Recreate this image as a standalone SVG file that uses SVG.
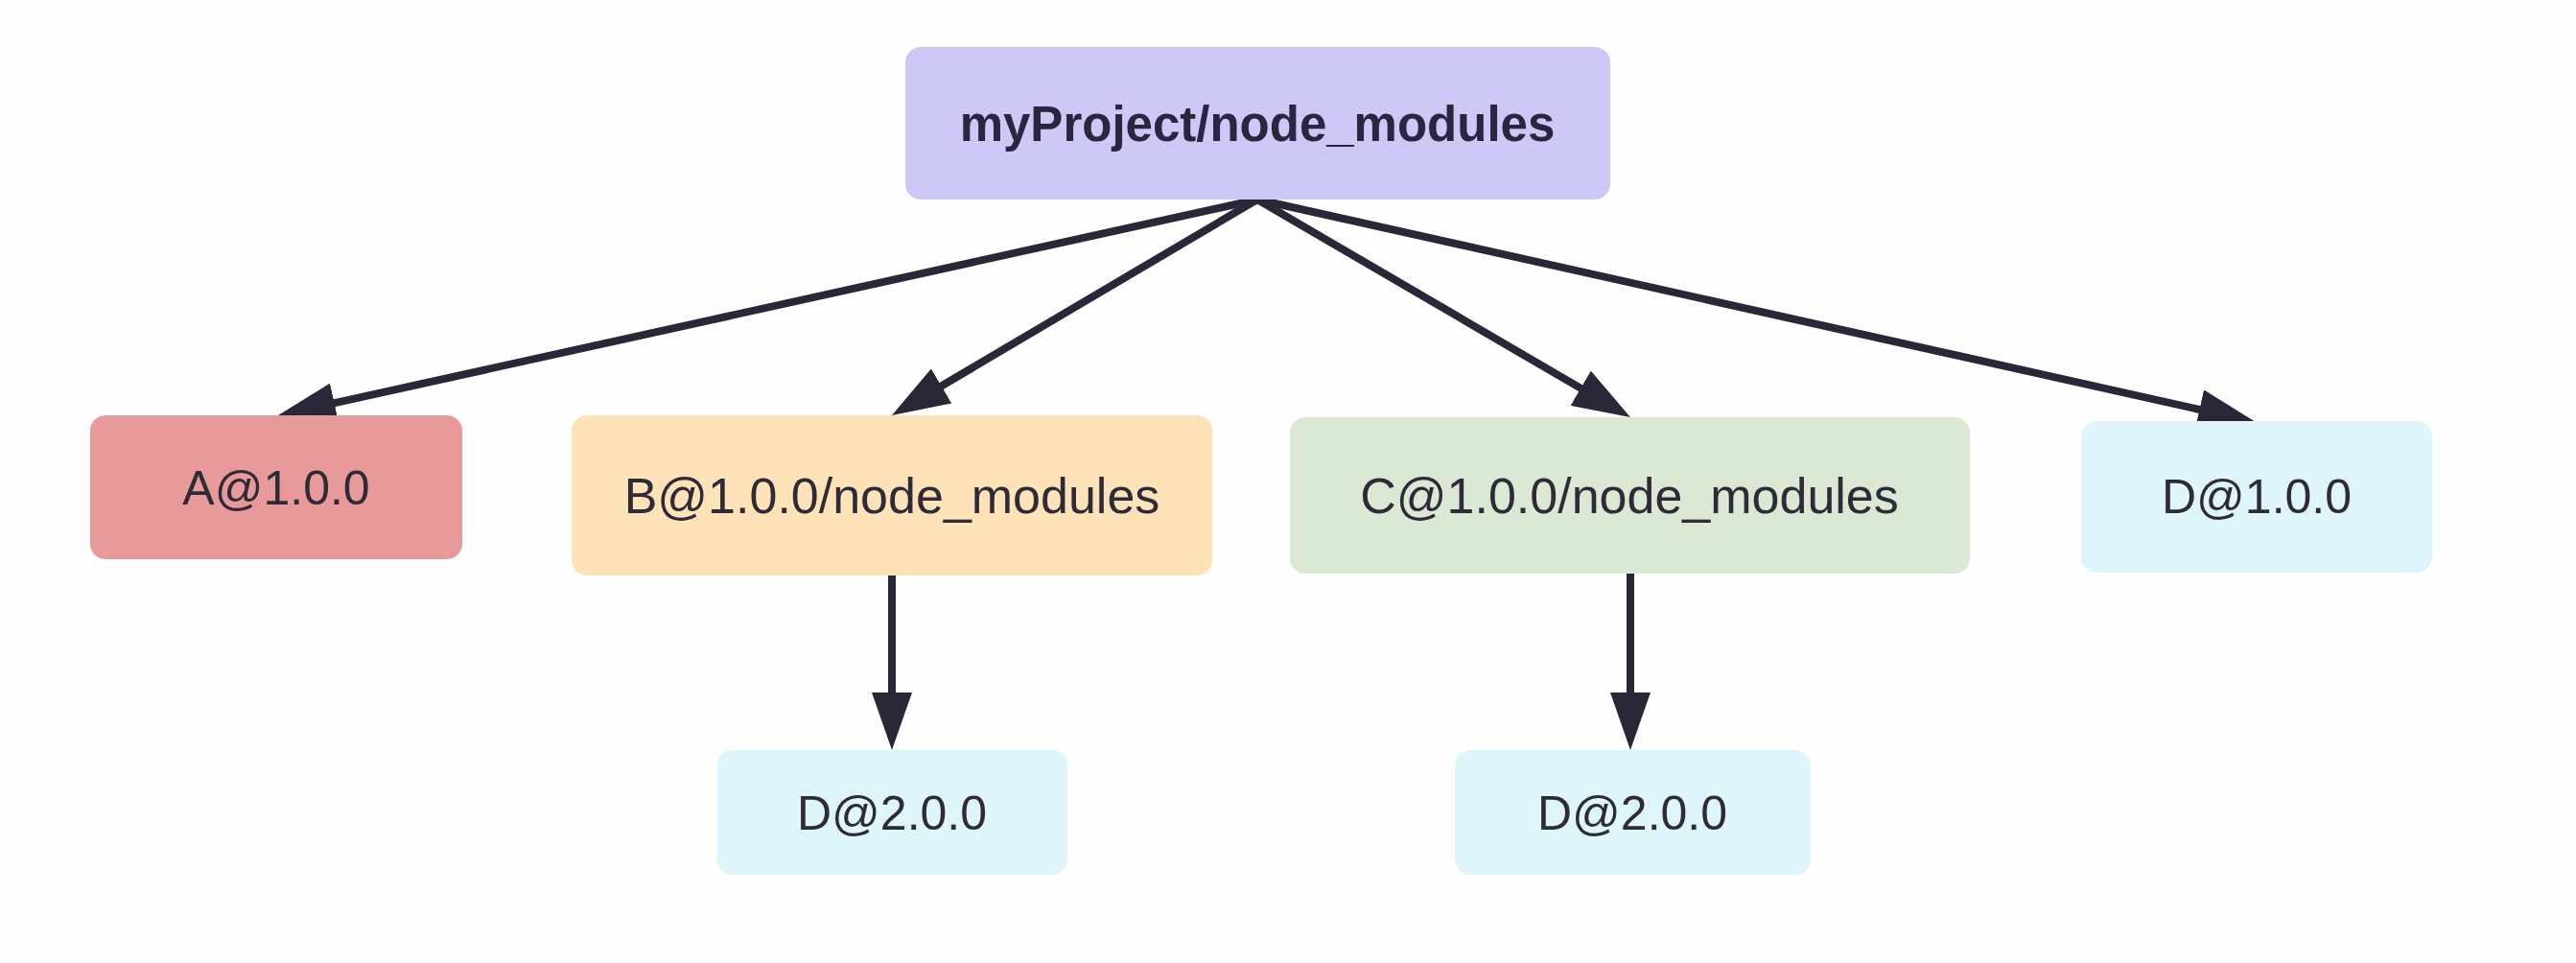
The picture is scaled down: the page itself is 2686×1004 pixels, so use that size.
<svg xmlns="http://www.w3.org/2000/svg" width="2686" height="1004" viewBox="0 0 2686 1004">
<style>
.box{stroke:none}
.lbl{font-family:"Liberation Sans",Arial,sans-serif;font-size:50px;fill:#2e2a38;text-anchor:middle}
.wide{font-size:52px}
.root{font-weight:bold;font-size:51px;fill:#2a2640}
.edge{fill:none;stroke:#2a2838;stroke-width:8}
</style>
<defs>
<marker id="ah" markerUnits="userSpaceOnUse" markerWidth="60" markerHeight="42" viewBox="0 0 60 42" refX="38" refY="21" orient="auto">
<path d="M0,0 L60,21 L0,42 Z" fill="#2a2838"/>
</marker>
</defs>
<rect width="2686" height="1004" fill="#fefefe"/>
<g id="connectors">
<path class="edge" d="M1311,208 L311.5,428.3" marker-end="url(#ah)"/>
<path class="edge" d="M1311,208 L948.9,421.8" marker-end="url(#ah)"/>
<path class="edge" d="M1311,208 L1681,423.9" marker-end="url(#ah)"/>
<path class="edge" d="M1311,208 L2330.5,435.2" marker-end="url(#ah)"/>
<path class="edge" d="M930,600 L930,760" marker-end="url(#ah)"/>
<path class="edge" d="M1700,598 L1700,760" marker-end="url(#ah)"/>
</g>
<g id="root">
<rect class="box" x="944" y="49" width="735" height="159" rx="16" fill="#cdc8f6"/>
<text class="lbl root" x="1311" y="147">myProject/node_modules</text>
</g>
<g id="nodeA">
<rect class="box" x="94" y="433" width="388" height="150" rx="16" fill="#e89a9b"/>
<text class="lbl" x="288" y="526">A@1.0.0</text>
</g>
<g id="nodeB">
<rect class="box" x="596" y="433" width="668" height="167" rx="16" fill="#fee2b8"/>
<text class="lbl wide" x="930" y="535">B@1.0.0/node_modules</text>
</g>
<g id="nodeC">
<rect class="box" x="1345" y="435" width="709" height="163" rx="16" fill="#dbe8d4"/>
<text class="lbl wide" x="1699" y="535">C@1.0.0/node_modules</text>
</g>
<g id="nodeD1">
<rect class="box" x="2170" y="439" width="366" height="158" rx="16" fill="#def6fb"/>
<text class="lbl" x="2353" y="535">D@1.0.0</text>
</g>
<g id="nodeD2b">
<rect class="box" x="748" y="782" width="365" height="130" rx="16" fill="#def6fb"/>
<text class="lbl" x="930" y="865">D@2.0.0</text>
</g>
<g id="nodeD2c">
<rect class="box" x="1517" y="782" width="371" height="130" rx="16" fill="#def6fb"/>
<text class="lbl" x="1702" y="865">D@2.0.0</text>
</g>
</svg>
